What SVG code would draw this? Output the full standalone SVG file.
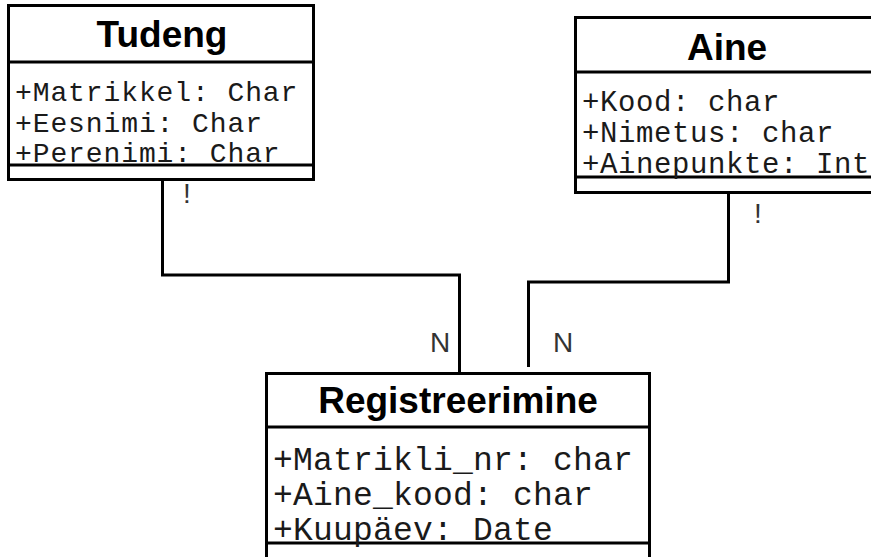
<svg xmlns="http://www.w3.org/2000/svg" width="871" height="557" viewBox="0 0 871 557">
<style>
.box{fill:#fff;stroke:#000;stroke-width:3}
.sep{stroke:#000;stroke-width:3}
.title{font-family:"Liberation Sans",Arial,sans-serif;font-weight:bold;font-size:37px;text-anchor:middle;fill:#000}
.attr{font-family:"Liberation Mono","Courier New",monospace;fill:#1a1a1a}
.conn{fill:none;stroke:#000;stroke-width:3}
.lbl{font-family:"Liberation Sans",Arial,sans-serif;font-size:28px;fill:#333}
</style>
<rect width="871" height="557" fill="#fff"/>
<g id="tudeng">
<rect class="box" x="8.5" y="5.5" width="305" height="174"/>
<line class="sep" x1="8.5" y1="62" x2="313.5" y2="62"/>
<line class="sep" x1="8.5" y1="165" x2="313.5" y2="165"/>
<text class="title" x="162" y="47">Tudeng</text>
<g class="attr" font-size="28" letter-spacing="0.9">
<text x="15" y="101">+Matrikkel: Char</text>
<text x="15" y="132">+Eesnimi: Char</text>
<text x="15" y="162">+Perenimi: Char</text>
</g>
</g>
<g id="aine">
<rect class="box" x="575.5" y="17.5" width="310" height="175"/>
<line class="sep" x1="575.5" y1="72" x2="885" y2="72"/>
<line class="sep" x1="575.5" y1="177" x2="885" y2="177"/>
<text class="title" x="727" y="60">Aine</text>
<g class="attr" font-size="29" letter-spacing="0.6">
<text x="582" y="111">+Kood: char</text>
<text x="582" y="142">+Nimetus: char</text>
<text x="582" y="173">+Ainepunkte: Int</text>
</g>
</g>
<g id="registreerimine">
<rect class="box" x="266.5" y="373.5" width="383" height="200"/>
<line class="sep" x1="266.5" y1="427" x2="649.5" y2="427"/>
<line class="sep" x1="266.5" y1="543" x2="649.5" y2="543"/>
<text class="title" x="458" y="413" font-size="38">Registreerimine</text>
<g class="attr" font-size="33" letter-spacing="0.2">
<text x="273" y="470">+Matrikli_nr: char</text>
<text x="273" y="505">+Aine_kood: char</text>
<text x="273" y="540">+Kuupäev: Date</text>
</g>
</g>
<g id="connectors">
<polyline class="conn" points="162.5,180 162.5,275 459.5,275 459.5,373"/>
<polyline class="conn" points="728.5,193 728.5,282 528.5,282 528.5,367"/>
<text class="lbl" x="183" y="203">!</text>
<text class="lbl" x="754" y="223">!</text>
<text class="lbl" x="430" y="352">N</text>
<text class="lbl" x="553" y="352">N</text>
</g>
</svg>
